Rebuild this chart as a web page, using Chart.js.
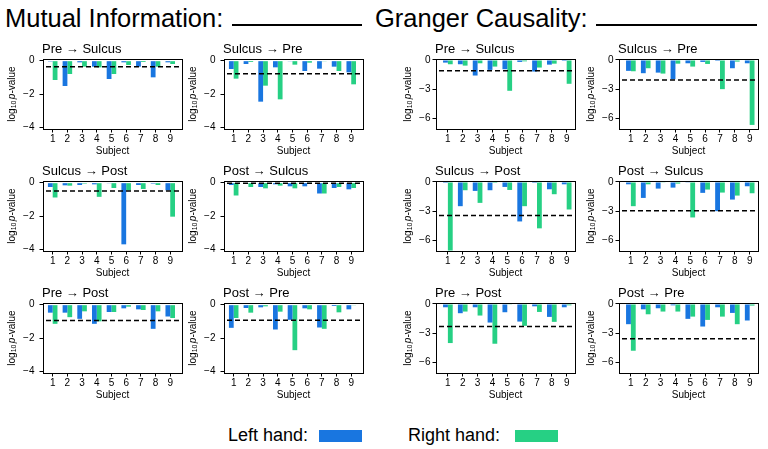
<!DOCTYPE html>
<html>
<head>
<meta charset="utf-8">
<script src="https://cdn.jsdelivr.net/npm/chart.js@4.4.0/dist/chart.umd.min.js"></script>
<style>
  body { margin: 0; width: 768px; height: 449px; background: #fff; position: relative; overflow: hidden;
         font-family: "Liberation Sans", Arial, sans-serif; color: #000; }
  .head { position: absolute; font-size: 25.5px; line-height: 25px; white-space: nowrap; }
  .rule { position: absolute; height: 1.5px; background: #000; }
  .leg { position: absolute; font-size: 18px; line-height: 18px; white-space: nowrap; }
  .swatch { position: absolute; width: 43px; height: 12px; }
</style>
</head>
<body>
<div class="head" style="left:5px;top:6px">Mutual Information:</div>
<div class="rule" style="left:232px;top:24px;width:130px"></div>
<div class="head" style="left:375px;top:6px">Granger Causality:</div>
<div class="rule" style="left:596px;top:24px;width:161px"></div>

<div class="leg" style="left:228px;top:426px">Left hand:</div>
<div class="swatch" style="left:319px;top:430px;background:#1976e0"></div>
<div class="leg" style="left:408px;top:426px">Right hand:</div>
<div class="swatch" style="left:515px;top:430px;background:#26d084"></div>

<script>
// Data (log10 p-values)
const subjects = ['1', '2', '3', '4', '5', '6', '7', '8', '9'];
const miTicks = [0, -2, -4];
const gcTicks = [0, -3, -6];

// Mutual information
const miPreSulcusLeft   = [-0.05, -1.52, -0.10, -0.36, -1.10, -0.10, -0.36, -1.00, -0.10];
const miPreSulcusRight  = [-1.16, -0.80, -0.36, -0.40, -0.80, -0.26, -0.08, -0.36, -0.20];
const miSulcusPreLeft   = [-0.50, -0.20, -2.46, -0.40, -0.04, -0.62, -0.48, -0.36, -0.70];
const miSulcusPreRight  = [-1.08, -0.08, -1.50, -2.32, -0.24, -0.12, -0.04, -0.62, -1.42];
const miSulcusPostLeft  = [-0.26, -0.16, -0.14, -0.10, -0.02, -3.70, -0.14, -0.06, -0.46];
const miSulcusPostRight = [-0.89, -0.18, -0.06, -0.85, -0.32, -0.46, -0.38, -0.14, -2.04];
const miPostSulcusLeft  = [-0.14, -0.02, -0.26, -0.10, -0.22, -0.22, -0.65, -0.32, -0.40];
const miPostSulcusRight = [-0.77, -0.26, -0.34, -0.18, -0.34, -0.01, -0.65, -0.26, -0.32];
const miPrePostLeft     = [-0.48, -0.48, -0.85, -1.15, -0.44, -0.22, -0.28, -1.45, -0.71];
const miPrePostRight    = [-1.15, -0.75, -0.40, -1.00, -0.44, -0.12, -0.32, -0.40, -0.80];
const miPostPreLeft     = [-1.39, -0.20, -0.16, -1.49, -0.91, -0.22, -1.37, -0.08, -0.28];
const miPostPreRight    = [-0.80, -0.48, -0.10, -0.42, -2.73, -0.28, -1.45, -0.46, -0.02];
const miThresholds = [-0.36, -0.78, -0.50, -0.03, -0.95, -0.93];

// Granger causality
const gcPreSulcusLeft   = [-0.27, -0.44, -1.60, -1.02, -0.95, -0.20, -1.19, -0.48, -0.10];
const gcPreSulcusRight  = [-0.44, -0.58, -0.34, -0.68, -3.17, -0.14, -0.78, -0.38, -2.45];
const gcSulcusPreLeft   = [-1.12, -1.36, -1.30, -1.98, -0.34, -0.20, -0.10, -0.85, -0.34];
const gcSulcusPreRight  = [-1.16, -0.85, -1.40, -0.38, -0.68, -0.41, -3.00, -0.17, -6.68];
const gcSulcusPostLeft  = [-0.10, -2.49, -0.92, -0.85, -0.51, -4.06, -0.10, -0.75, -0.24];
const gcSulcusPostRight = [-7.05, -0.85, -2.15, -0.10, -0.82, -2.49, -4.77, -1.26, -2.83];
const gcPostSulcusLeft  = [-0.24, -1.64, -0.68, -0.58, -0.03, -1.12, -3.00, -1.81, -0.44];
const gcPostSulcusRight = [-2.49, -0.24, -0.07, -0.17, -3.65, -0.78, -1.09, -1.40, -1.16];
const gcPrePostLeft     = [-0.34, -0.95, -0.34, -1.91, -0.85, -1.81, -0.24, -1.33, -0.34];
const gcPrePostRight    = [-4.02, -0.78, -1.19, -4.09, -0.07, -2.25, -0.82, -1.84, -0.14];
const gcPostPreLeft     = [-2.08, -0.55, -0.44, -0.14, -1.53, -2.32, -0.34, -0.92, -1.70];
const gcPostPreRight    = [-4.81, -1.06, -0.78, -0.78, -1.30, -1.64, -1.30, -2.08, -0.17];
const gcThresholds = [-1.12, -2.05, -3.44, -2.97, -2.32, -3.58];

const blue = '#1976e0';
const green = '#26d084';
const fam = '"Liberation Sans", Arial, sans-serif';

Chart.defaults.font.family = fam;
Chart.defaults.color = '#000';

// panel geometry (plot area, page px)
const cols = [43, 224, 436, 619];
const rows = [59, 181, 303];
const plotW = 139, plotH = 70;
const padL = 44, padT = 20, padR = 4, padB = 28;

// dashed threshold, frame, panel title and y label
const panelDeco = {
  id: 'panelDeco',
  afterDatasetsDraw(chart, args, opts) {
    const { ctx, chartArea: a, scales: { y } } = chart;
    const ty = y.getPixelForValue(opts.threshold);
    ctx.save();
    ctx.strokeStyle = '#000';
    ctx.lineWidth = 1.5;
    ctx.setLineDash([5, 3]);
    ctx.beginPath();
    ctx.moveTo(a.left + 3, ty);
    ctx.lineTo(a.right - 2, ty);
    ctx.stroke();
    ctx.restore();
  },
  afterDraw(chart, args, opts) {
    const { ctx, chartArea: a } = chart;
    ctx.save();
    ctx.strokeStyle = '#000';
    ctx.lineWidth = 1;
    ctx.strokeRect(a.left + 0.5, a.top + 0.5, a.right - a.left, a.bottom - a.top);

    ctx.fillStyle = '#000';
    ctx.textBaseline = 'alphabetic';
    ctx.font = '13px ' + fam;
    ctx.fillText(opts.title, a.left - 1, a.top - 6);

    // y axis label: log10 p-value
    const parts = [
      ['log', '10px ' + fam, 0],
      ['10', '7px ' + fam, 2.5],
      [' ', '5px ' + fam, 0],
      ['p', 'italic 10px ' + fam, 0],
      ['-value', '10px ' + fam, 0]
    ];
    let total = 0;
    parts.forEach(p => { ctx.font = p[1]; total += ctx.measureText(p[0]).width; });
    ctx.translate(a.left - opts.labelGap, (a.top + a.bottom) / 2);
    ctx.rotate(-Math.PI / 2);
    ctx.textBaseline = 'middle';
    let x = -total / 2;
    parts.forEach(p => {
      ctx.font = p[1];
      ctx.fillText(p[0], x, p[2]);
      x += ctx.measureText(p[0]).width;
    });
    ctx.restore();
  }
};

function makePanel(title, col, row, left, right, threshold, gc) {
  const w = plotW + padL + padR, h = plotH + padT + padB;
  const c = document.createElement('canvas');
  c.width = w;
  c.height = h;
  c.style.cssText = `position:absolute;left:${cols[col] - padL}px;top:${rows[row] - padT}px;width:${w}px;height:${h}px`;
  document.body.appendChild(c);

  const ticks = gc ? gcTicks : miTicks;
  new Chart(c, {
    type: 'bar',
    data: {
      labels: subjects,
      datasets: [
        { data: left, backgroundColor: blue, borderWidth: 0 },
        { data: right, backgroundColor: green, borderWidth: 0 }
      ]
    },
    plugins: [panelDeco],
    options: {
      responsive: false,
      animation: false,
      devicePixelRatio: 1,
      layout: { padding: { top: padT, right: padR, left: 0, bottom: 0 } },
      datasets: { bar: { categoryPercentage: 0.65, barPercentage: 1 } },
      plugins: {
        legend: { display: false },
        tooltip: { enabled: false },
        panelDeco: { title: title, threshold: threshold, labelGap: gc ? 28 : 31 }
      },
      scales: {
        x: {
          type: 'linear',
          offset: false,
          min: gc ? 0.2 : 0.34,
          max: gc ? 9.56 : 9.8,
          grid: { offset: false, drawOnChartArea: false, drawTicks: true, tickLength: 3.5, color: '#000' },
          border: { display: true, color: '#000' },
          ticks: { stepSize: 1, includeBounds: false, font: { size: 10 }, padding: 1, maxRotation: 0, autoSkip: false },
          title: { display: true, text: 'Subject', font: { size: 10 }, padding: 0 },
          afterFit: s => { s.height = padB; }
        },
        y: {
          min: gc ? -7.1 : -4.1,
          max: 0.1,
          afterBuildTicks: s => { s.ticks = ticks.map(v => ({ value: v })); },
          grid: { drawOnChartArea: false, drawTicks: true, tickLength: 3.5, color: '#000' },
          border: { display: true, color: '#000' },
          ticks: {
            font: { size: 10 },
            padding: gc ? 2 : 5,
            callback: v => v === 0 ? '0' : '\u2212' + Math.abs(v)
          },
          afterFit: s => { s.width = padL; }
        }
      }
    }
  });
}

makePanel('Pre \u2192 Sulcus', 0, 0, miPreSulcusLeft, miPreSulcusRight, miThresholds[0], false);
makePanel('Sulcus \u2192 Pre', 1, 0, miSulcusPreLeft, miSulcusPreRight, miThresholds[1], false);
makePanel('Sulcus \u2192 Post', 0, 1, miSulcusPostLeft, miSulcusPostRight, miThresholds[2], false);
makePanel('Post \u2192 Sulcus', 1, 1, miPostSulcusLeft, miPostSulcusRight, miThresholds[3], false);
makePanel('Pre \u2192 Post', 0, 2, miPrePostLeft, miPrePostRight, miThresholds[4], false);
makePanel('Post \u2192 Pre', 1, 2, miPostPreLeft, miPostPreRight, miThresholds[5], false);

makePanel('Pre \u2192 Sulcus', 2, 0, gcPreSulcusLeft, gcPreSulcusRight, gcThresholds[0], true);
makePanel('Sulcus \u2192 Pre', 3, 0, gcSulcusPreLeft, gcSulcusPreRight, gcThresholds[1], true);
makePanel('Sulcus \u2192 Post', 2, 1, gcSulcusPostLeft, gcSulcusPostRight, gcThresholds[2], true);
makePanel('Post \u2192 Sulcus', 3, 1, gcPostSulcusLeft, gcPostSulcusRight, gcThresholds[3], true);
makePanel('Pre \u2192 Post', 2, 2, gcPrePostLeft, gcPrePostRight, gcThresholds[4], true);
makePanel('Post \u2192 Pre', 3, 2, gcPostPreLeft, gcPostPreRight, gcThresholds[5], true);
</script>
</body>
</html>
